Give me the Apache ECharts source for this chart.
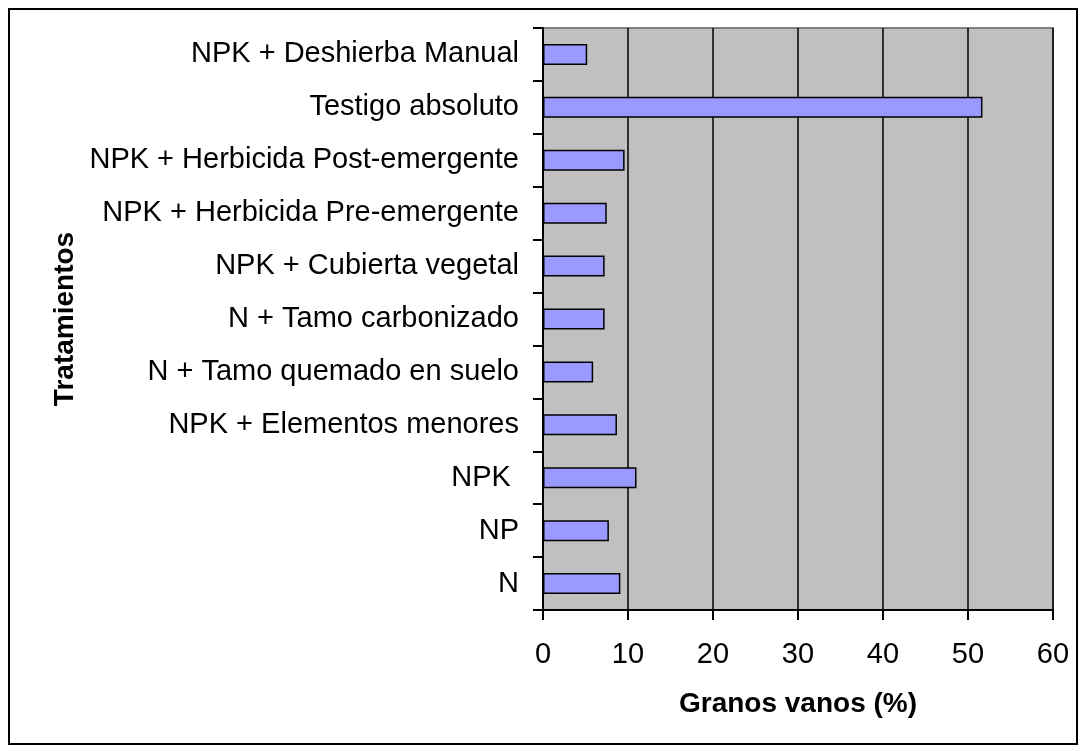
<!DOCTYPE html>
<html>
<head>
<meta charset="utf-8">
<script src="https://cdn.jsdelivr.net/npm/echarts@6/dist/echarts.min.js"></script>
<style>
  html, body { margin: 0; padding: 0; background: #fff; }
  #frame { position: absolute; left: 8px; top: 8px; width: 1066px; height: 733px; border: 2px solid #000; }
  #chart { position: absolute; left: 0; top: 0; width: 1084px; height: 751px; }
</style>
</head>
<body>
<div id="frame"></div>
<div id="chart"></div>
<script>
// categorias de abajo hacia arriba
const categories = [
  'N',
  'NP',
  'NPK ',
  'NPK + Elementos menores',
  'N + Tamo quemado en suelo',
  'N + Tamo carbonizado',
  'NPK + Cubierta vegetal',
  'NPK + Herbicida Pre-emergente',
  'NPK + Herbicida Post-emergente',
  'Testigo absoluto',
  'NPK + Deshierba Manual'
];
const granosVanos = [9.1, 7.75, 11.0, 8.7, 5.9, 7.25, 7.25, 7.5, 9.6, 51.7, 5.2];
const xTicks = [0, 10, 20, 30, 40, 50, 60];

const chart = echarts.init(document.getElementById('chart'));
const font = 'Arial, "Liberation Sans", sans-serif';

chart.setOption({
  animation: false,
  grid: {
    left: 543, top: 28, right: 31, bottom: 141,
    show: true,
    backgroundColor: '#C0C0C0',
    borderColor: '#808080',
    borderWidth: 2
  },
  xAxis: {
    type: 'value',
    min: xTicks[0],
    max: xTicks[xTicks.length - 1],
    interval: 10,
    name: 'Granos vanos (%)',
    nameLocation: 'middle',
    nameGap: 80,
    nameTextStyle: { fontFamily: font, fontSize: 28, fontWeight: 'bold', color: '#000' },
    axisLine: { show: true, lineStyle: { color: '#000', width: 2 } },
    axisTick: { show: true, length: 10, lineStyle: { color: '#000', width: 2 } },
    axisLabel: { fontFamily: font, fontSize: 29, color: '#000', margin: 30 },
    splitLine: { show: true, lineStyle: { color: '#000', width: 1.5 } }
  },
  yAxis: {
    type: 'category',
    data: categories,
    name: 'Tratamientos',
    nameLocation: 'middle',
    nameRotate: 90,
    nameGap: 464,
    nameTextStyle: { fontFamily: font, fontSize: 28, fontWeight: 'bold', color: '#000' },
    axisLine: { show: true, lineStyle: { color: '#000', width: 2 } },
    axisTick: { show: true, length: 10, inside: false, lineStyle: { color: '#000', width: 2 } },
    axisLabel: { fontFamily: font, fontSize: 29, color: '#000', margin: 24 },
    splitLine: { show: false }
  },
  series: [{
    type: 'bar',
    data: granosVanos,
    barWidth: 21,
    itemStyle: { color: '#9999FF', borderColor: '#000', borderWidth: 1.5 }
  }]
});
</script>
</body>
</html>
